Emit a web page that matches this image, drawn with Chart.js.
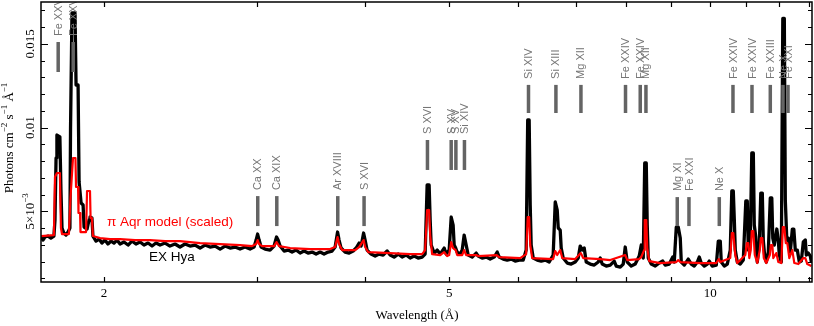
<!DOCTYPE html>
<html><head><meta charset="utf-8">
<script src="https://cdn.jsdelivr.net/npm/chart.js@4.4.0/dist/chart.umd.min.js"></script>
<style>html,body{margin:0;padding:0;background:#fff;}#wrap{width:814px;height:326px;}</style>
</head><body><div id="wrap"><canvas id="c" width="814" height="326"></canvas></div>
<script>
// EX Hya spectrum (wavelength in Å, flux in photons cm^-2 s^-1 Å^-1)
const exHyaWave = [1.692,1.701,1.710,1.724,1.737,1.751,1.756,1.761,1.765,1.779,1.784,1.789,1.798,1.808,1.818,1.827,1.830,1.837,1.852,1.857,1.867,1.872,1.882,1.892,1.897,1.912,1.922,1.927,1.937,1.942,1.958,1.974,1.989,2.005,2.021,2.038,2.054,2.070,2.087,2.109,2.132,2.154,2.177,2.201,2.224,2.248,2.272,2.296,2.321,2.352,2.383,2.415,2.447,2.480,2.513,2.547,2.581,2.615,2.650,2.686,2.722,2.758,2.795,2.832,2.870,2.908,2.947,2.979,2.995,3.007,3.019,3.035,3.067,3.108,3.141,3.162,3.175,3.192,3.226,3.260,3.295,3.330,3.366,3.402,3.438,3.475,3.512,3.550,3.587,3.626,3.664,3.694,3.718,3.733,3.753,3.793,3.834,3.875,3.906,3.937,3.958,3.984,4.000,4.021,4.064,4.108,4.152,4.196,4.241,4.275,4.320,4.367,4.413,4.460,4.508,4.556,4.605,4.654,4.691,4.716,4.741,4.754,4.767,4.805,4.843,4.882,4.934,4.960,5.000,5.027,5.053,5.067,5.087,5.107,5.148,5.176,5.203,5.231,5.259,5.315,5.372,5.400,5.458,5.516,5.575,5.635,5.680,5.710,5.771,5.833,5.895,5.958,6.021,6.086,6.134,6.159,6.183,6.200,6.216,6.250,6.316,6.384,6.452,6.521,6.590,6.626,6.661,6.679,6.714,6.732,6.768,6.840,6.913,6.987,7.043,7.080,7.118,7.156,7.194,7.271,7.349,7.427,7.467,7.506,7.587,7.668,7.749,7.791,7.874,7.937,7.979,8.022,8.107,8.194,8.281,8.326,8.370,8.403,8.437,8.459,8.482,8.550,8.641,8.733,8.815,8.873,8.968,9.052,9.088,9.137,9.185,9.234,9.259,9.333,9.432,9.508,9.584,9.661,9.712,9.764,9.842,9.921,9.973,10.053,10.161,10.215,10.269,10.296,10.379,10.462,10.545,10.588,10.630,10.658,10.686,10.743,10.829,10.916,10.989,11.032,11.062,11.121,11.165,11.210,11.239,11.284,11.329,11.390,11.435,11.481,11.511,11.557,11.603,11.665,11.727,11.774,11.805,11.853,11.932,11.979,12.011,12.075,12.123,12.172,12.204,12.253,12.302,12.367,12.433,12.483,12.532,12.599,12.666,12.734,12.801,12.870,12.904,12.973,13.042,13.076];
const exHyaFlux = [0.003525,0.003286,0.003465,0.003525,0.003405,0.003525,0.004481,0.008184,0.009558,0.009439,0.006273,0.004003,0.003704,0.003584,0.003764,0.004003,0.009977,0.016847,0.016847,0.012545,0.012545,0.006751,0.005496,0.005377,0.004062,0.003943,0.004481,0.004660,0.004600,0.003525,0.003226,0.003345,0.003106,0.003286,0.003047,0.003226,0.003106,0.003286,0.003047,0.003166,0.002987,0.003226,0.003047,0.003166,0.002987,0.003106,0.002927,0.003106,0.002987,0.003106,0.002927,0.003047,0.002868,0.003047,0.002927,0.002987,0.002808,0.002987,0.002868,0.002927,0.002748,0.002927,0.002808,0.002868,0.002748,0.002868,0.002748,0.002868,0.003286,0.003644,0.003286,0.002868,0.002748,0.002688,0.002927,0.003465,0.003286,0.002927,0.002629,0.002688,0.002569,0.002688,0.002509,0.002629,0.002509,0.002569,0.002449,0.002569,0.002449,0.002569,0.002629,0.002868,0.003764,0.003286,0.002808,0.002569,0.002509,0.002629,0.002808,0.003106,0.002927,0.003704,0.003286,0.002688,0.002449,0.002330,0.002449,0.002390,0.002629,0.002390,0.002270,0.002449,0.002270,0.002390,0.002210,0.002330,0.002210,0.002270,0.002449,0.006571,0.006571,0.004481,0.002987,0.002509,0.002688,0.002449,0.002808,0.002449,0.002688,0.004660,0.004182,0.002987,0.002808,0.002569,0.002449,0.002688,0.003584,0.002987,0.002390,0.002270,0.002509,0.002330,0.002210,0.002270,0.002151,0.002270,0.002569,0.002270,0.002151,0.002091,0.002151,0.002031,0.002091,0.002091,0.002688,0.010455,0.010455,0.005377,0.002987,0.002210,0.002091,0.002031,0.002091,0.001971,0.002390,0.005556,0.005078,0.004003,0.003883,0.002808,0.002210,0.001912,0.001852,0.001971,0.002210,0.002927,0.002688,0.002808,0.001971,0.001852,0.001792,0.001971,0.002210,0.001852,0.001732,0.001792,0.002031,0.001732,0.001673,0.001852,0.002868,0.001971,0.001732,0.001852,0.002330,0.002987,0.002210,0.007886,0.007886,0.004182,0.002210,0.001852,0.001732,0.001912,0.002031,0.001792,0.001852,0.002270,0.001971,0.004062,0.004062,0.003405,0.001971,0.001792,0.002151,0.001852,0.001732,0.001971,0.002270,0.001912,0.001732,0.001852,0.002031,0.001732,0.001792,0.003226,0.003226,0.001971,0.001732,0.001852,0.002688,0.006213,0.006213,0.004540,0.002688,0.001971,0.001852,0.002091,0.005616,0.005616,0.002688,0.003286,0.008483,0.008483,0.004182,0.003465,0.001971,0.002987,0.006093,0.006093,0.003286,0.002270,0.001971,0.002569,0.005795,0.005795,0.003405,0.002987,0.003943,0.003286,0.002390,0.001971,0.016518,0.016518,0.005675,0.003286,0.003405,0.002569,0.003943,0.003943,0.002688,0.002688,0.001971,0.002031,0.003166,0.003286,0.002390,0.002509,0.002330,0.001971];

// pi Aqr model (scaled)
const piAqrWave = [1.692,1.751,1.756,1.765,1.779,1.784,1.789,1.822,1.830,1.842,1.854,1.857,1.867,1.869,1.877,1.879,1.907,1.912,1.927,1.930,1.937,1.942,1.979,2.032,2.087,2.172,2.260,2.352,2.447,2.513,2.581,2.722,2.870,2.963,2.995,3.007,3.019,3.043,3.141,3.162,3.183,3.278,3.457,3.645,3.694,3.718,3.733,3.763,3.895,3.937,3.984,4.000,4.032,4.275,4.508,4.654,4.691,4.716,4.741,4.754,4.779,4.882,4.934,4.973,5.000,5.027,5.053,5.087,5.107,5.176,5.203,5.231,5.372,5.400,5.672,5.710,6.037,6.134,6.159,6.183,6.200,6.233,6.590,6.626,6.661,6.714,6.750,6.987,7.090,7.137,7.467,7.668,7.979,8.022,8.281,8.326,8.392,8.403,8.437,8.459,8.504,8.756,9.137,9.185,9.234,9.738,10.161,10.228,10.269,10.545,10.588,10.630,10.686,10.743,10.974,11.018,11.062,11.091,11.135,11.165,11.210,11.254,11.329,11.405,11.435,11.481,11.527,11.603,11.712,11.743,11.790,11.821,11.916,11.979,12.075,12.123,12.172,12.220,12.269,12.334,12.433,12.499,12.633,12.801,12.870,12.938,13.076];
const piAqrFlux = [0.003525,0.003584,0.007049,0.007288,0.007288,0.004003,0.003644,0.003644,0.005855,0.008184,0.008184,0.006452,0.006452,0.004899,0.004899,0.003764,0.003764,0.006213,0.006213,0.004600,0.004600,0.003525,0.003405,0.003345,0.003345,0.003286,0.003286,0.003226,0.003226,0.003166,0.003106,0.003047,0.002987,0.002927,0.003047,0.003286,0.003047,0.002927,0.002927,0.003166,0.002927,0.002808,0.002748,0.002748,0.002868,0.003465,0.003047,0.002688,0.002688,0.002868,0.003286,0.002868,0.002569,0.002509,0.002449,0.002449,0.002688,0.005078,0.005078,0.003584,0.002449,0.002390,0.002569,0.002330,0.002390,0.003166,0.002808,0.002688,0.002390,0.002390,0.002688,0.002390,0.002390,0.002330,0.002390,0.002270,0.002210,0.002449,0.004660,0.004660,0.002987,0.002210,0.002151,0.002629,0.002390,0.002688,0.002210,0.002151,0.002509,0.002210,0.002151,0.002091,0.002390,0.002091,0.002151,0.002270,0.002688,0.004481,0.004481,0.002808,0.002031,0.001912,0.001971,0.002091,0.001971,0.001912,0.001912,0.002151,0.001971,0.002210,0.003704,0.003704,0.002390,0.001912,0.002390,0.003106,0.003106,0.002210,0.002688,0.003823,0.003823,0.002390,0.001912,0.002688,0.003405,0.003405,0.002210,0.001912,0.002390,0.002987,0.002987,0.002210,0.002509,0.001971,0.001912,0.004062,0.004062,0.003106,0.003106,0.002210,0.002688,0.001912,0.001852,0.002210,0.002210,0.001852,0.001732];

// identified lines: name, wavelength (Å), marker bar bottom / top (flux units)
const lineNames = ['Fe XXVI','Fe XXV','Ca XX','Ca XIX','Ar XVIII','S XVI','S XVI','S XV','S XV','Si XIV','Si XIV','Si XIII','Mg XII','Fe XXIV','Fe XXIV','Mg XII','Mg XI','Fe XXI','Ne X','Fe XXIV','Fe XXIV','Fe XXIII','Ne X','Fe XXI'];
const lineWaves = [1.771,1.843,3.008,3.164,3.720,3.989,4.720,5.027,5.090,5.207,6.172,6.638,7.094,7.985,8.303,8.430,9.161,9.450,10.242,10.621,11.171,11.727,12.129,12.292];
const lineBarLow  = [0.01332,0.01332,0.00412,0.00412,0.00412,0.00412,0.00747,0.00747,0.00747,0.00747,0.01087,0.01087,0.01087,0.01087,0.01087,0.01087,0.00412,0.00412,0.00412,0.01087,0.01087,0.01087,0.01087,0.01087];
const lineBarHigh = [0.01511,0.01511,0.00591,0.00591,0.00591,0.00591,0.00926,0.00926,0.00926,0.00926,0.01255,0.01255,0.01255,0.01255,0.01255,0.01255,0.00585,0.00585,0.00585,0.01255,0.01255,0.01255,0.01255,0.01255];

// in-plot series labels (anchored in data coordinates)
const seriesLabelTexts = ['π Aqr model (scaled)','EX Hya'];
const seriesLabelWave  = [2.016, 2.254];
const seriesLabelFlux  = [0.00436, 0.00227];
const seriesLabelColors = ['#ff0000','#000000'];

// axes
const xRange = [1.692, 13.1];
const yRange = [0.00078, 0.0175];
const xTickValues = [2,3,4,5,6,7,8,9,10,11,12,13];
const xLabelValues = [2,5,10];
const xLabelTexts = ['2','5','10'];
const yTickValues = [0.001,0.002,0.003,0.004,0.005,0.006,0.007,0.008,0.009,0.010,0.011,0.012,0.013,0.014,0.015,0.016,0.017];
const yMajorValues = [0.005,0.010,0.015];
const yMajorBase = ['5×10','0.01','0.015'];
const yMajorSup  = ['−3','',''];
const xTitle = 'Wavelength (Å)';
const yTitleParts = [['Photons cm',false],['−2',true],[' s',false],['−1',true],[' Å',false],['−1',true]];

const SERIF = '"Liberation Serif","Times New Roman",serif';
const SANS = '"Liberation Sans",Arial,sans-serif';

function richText(ctx, parts, cx, cy, rot, size, family, color){
  ctx.save(); ctx.translate(cx, cy); if (rot) ctx.rotate(rot);
  ctx.fillStyle = color; ctx.textBaseline = 'middle'; ctx.textAlign = 'left';
  const fb = size + 'px ' + family, fs = Math.round(size*0.72) + 'px ' + family;
  let w = 0; const ws = [];
  parts.forEach(p => { ctx.font = p[1] ? fs : fb; const m = ctx.measureText(p[0]).width; ws.push(m); w += m; });
  let xx = -w/2;
  parts.forEach((p,i) => { ctx.font = p[1] ? fs : fb; ctx.fillText(p[0], xx, p[1] ? -size*0.38 : 0); xx += ws[i]; });
  ctx.restore();
}

const overlay = {
  id: 'overlay',
  afterDatasetsDraw(chart){
    const {ctx, chartArea: a, scales: {x, y}} = chart;
    ctx.save();
    ctx.beginPath(); ctx.rect(a.left, a.top, a.right - a.left, a.bottom - a.top); ctx.clip();
    lineWaves.forEach((w, i) => {
      const px = x.getPixelForValue(w);
      const y0 = y.getPixelForValue(lineBarLow[i]), y1 = y.getPixelForValue(lineBarHigh[i]);
      ctx.strokeStyle = '#646464'; ctx.lineWidth = 3.5; ctx.lineCap = 'butt';
      ctx.beginPath(); ctx.moveTo(px, y0); ctx.lineTo(px, y1); ctx.stroke();
      ctx.save(); ctx.translate(px, y1 - 6); ctx.rotate(-Math.PI/2);
      ctx.fillStyle = '#767676'; ctx.font = '11px ' + SANS;
      ctx.textAlign = 'left'; ctx.textBaseline = 'middle';
      ctx.fillText(lineNames[i], 0, 0.5);
      ctx.restore();
    });
    seriesLabelTexts.forEach((t, i) => {
      ctx.fillStyle = seriesLabelColors[i]; ctx.font = '13.5px ' + SANS;
      ctx.textAlign = 'left'; ctx.textBaseline = 'middle';
      ctx.fillText(t, x.getPixelForValue(seriesLabelWave[i]), y.getPixelForValue(seriesLabelFlux[i]));
    });
    ctx.restore();
  },
  afterDraw(chart){
    const {ctx, chartArea: a, scales: {x, y}} = chart;
    ctx.save();
    ctx.strokeStyle = '#000'; ctx.lineWidth = 1.5;
    ctx.strokeRect(a.left, a.top, a.right - a.left, a.bottom - a.top);
    ctx.lineWidth = 1.2;
    ctx.beginPath();
    xTickValues.forEach(v => {
      const px = Math.round(x.getPixelForValue(v)) + 0.5;
      ctx.moveTo(px, a.bottom); ctx.lineTo(px, a.bottom - 5);
      ctx.moveTo(px, a.top); ctx.lineTo(px, a.top + 5);
    });
    yTickValues.forEach(v => {
      const py = Math.round(y.getPixelForValue(v)) + 0.5;
      const L = yMajorValues.some(m => Math.abs(m - v) < 1e-9) ? 7 : 4;
      ctx.moveTo(a.left, py); ctx.lineTo(a.left + L, py);
      ctx.moveTo(a.right, py); ctx.lineTo(a.right - L, py);
    });
    ctx.stroke();
    ctx.fillStyle = '#000'; ctx.font = '13px ' + SERIF; ctx.textAlign = 'center'; ctx.textBaseline = 'middle';
    xLabelValues.forEach((v, i) => ctx.fillText(xLabelTexts[i], x.getPixelForValue(v), a.bottom + 12));
    yMajorValues.forEach((v, i) => {
      const parts = [[yMajorBase[i], false]];
      if (yMajorSup[i]) parts.push([yMajorSup[i], true]);
      richText(ctx, parts, 31, y.getPixelForValue(v), -Math.PI/2, 13, SERIF, '#000');
    });
    ctx.font = '13px ' + SERIF; ctx.textAlign = 'center'; ctx.textBaseline = 'middle'; ctx.fillStyle = '#000';
    ctx.fillText(xTitle, 417, 316);
    richText(ctx, yTitleParts, 10, 138, -Math.PI/2, 13, SERIF, '#000');
    ctx.restore();
  }
};

new Chart(document.getElementById('c'), {
  type: 'line',
  data: { datasets: [
    { label: seriesLabelTexts[0], data: piAqrWave.map((w, i) => ({x: w, y: piAqrFlux[i]})),
      borderColor: '#ff0000', borderWidth: 2.2, pointRadius: 0, tension: 0, order: 0, borderJoinStyle: 'round', fill: false },
    { label: seriesLabelTexts[1], data: exHyaWave.map((w, i) => ({x: w, y: exHyaFlux[i]})),
      borderColor: '#000000', borderWidth: 3.3, pointRadius: 0, tension: 0, order: 1, borderJoinStyle: 'round', fill: false }
  ]},
  options: {
    responsive: false, animation: false, devicePixelRatio: 1,
    layout: { padding: { left: 41, right: 2, top: 2, bottom: 44 } },
    plugins: { legend: { display: false }, tooltip: { enabled: false } },
    scales: {
      x: { type: 'logarithmic', min: xRange[0], max: xRange[1], display: false },
      y: { type: 'linear', min: yRange[0], max: yRange[1], display: false }
    }
  },
  plugins: [overlay]
});
</script></body></html>
